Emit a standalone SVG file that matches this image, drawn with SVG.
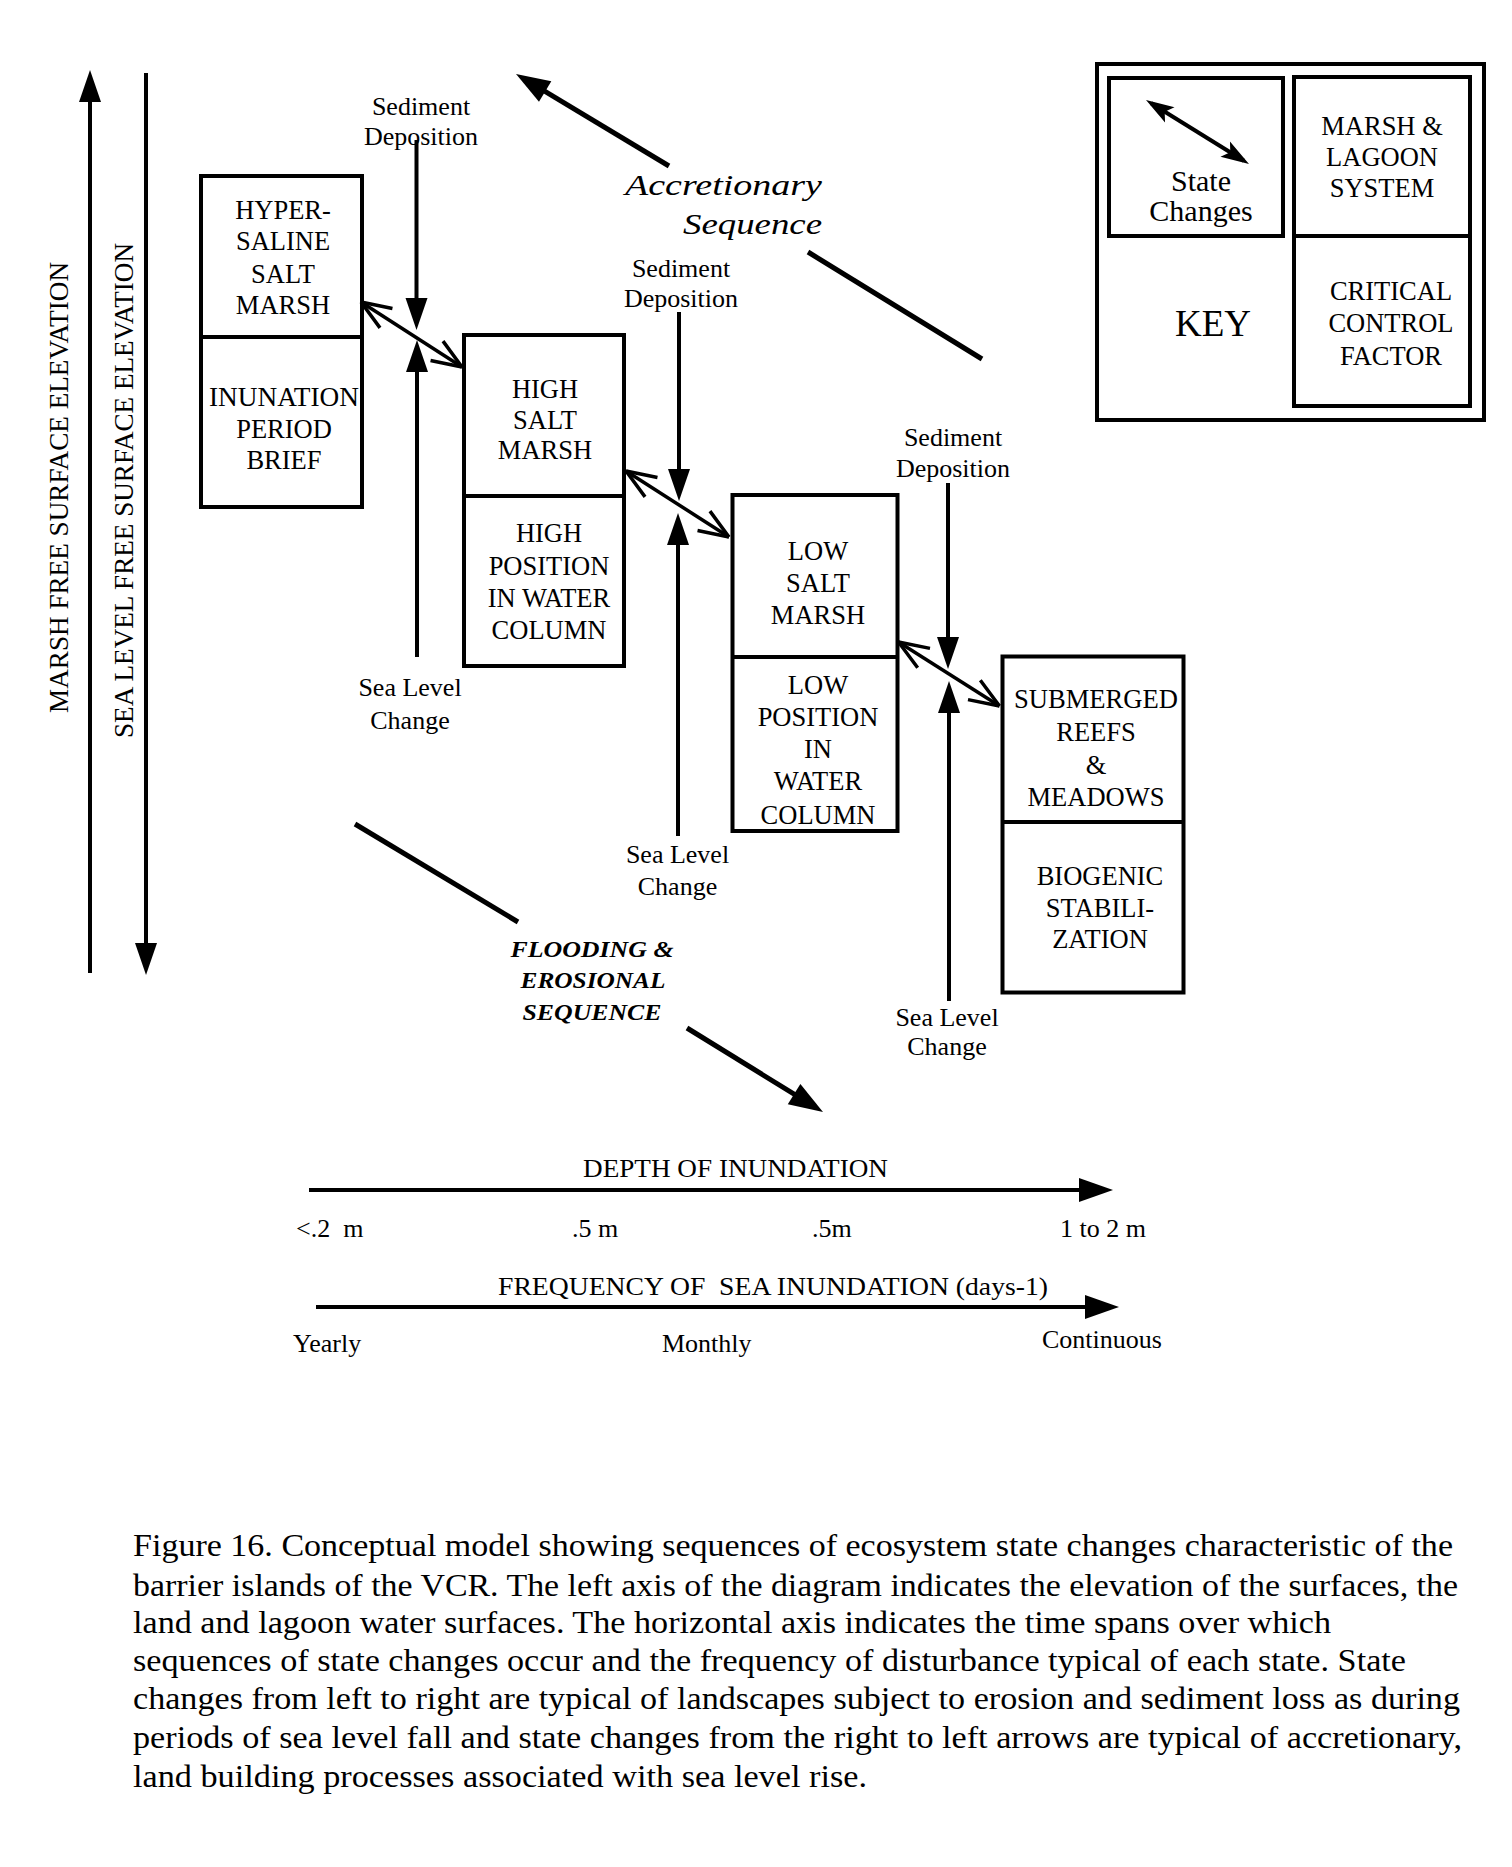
<svg xmlns="http://www.w3.org/2000/svg" width="1512" height="1867" viewBox="0 0 1512 1867">
<style>
text{font-family:"Liberation Serif","Times New Roman",serif;fill:#000}
.box{fill:#fff;stroke:#000;stroke-width:4}
.div{stroke:#000;stroke-width:4}
.lbl{font-size:26.5px;text-anchor:middle}
.note{font-size:26px;text-anchor:middle}
.axl{font-size:26px}
.shaft{stroke:#000;stroke-width:4;fill:none}
.diag{stroke:#000;stroke-width:5;fill:none}
.dbl{stroke:#000;stroke-width:3.5;fill:none}
.seqA{font-size:30px;font-style:italic}
.seqF{font-size:24px;font-style:italic;font-weight:bold;text-anchor:middle}
.cap{font-size:31px}
</style>
<defs>
<marker id="tri" markerUnits="userSpaceOnUse" orient="auto" markerWidth="1" markerHeight="1" refX="0" refY="0" overflow="visible"><path d="M10,0 L-22,-11 L-22,11 Z" fill="#000"/></marker>
<marker id="big" markerUnits="userSpaceOnUse" orient="auto" markerWidth="1" markerHeight="1" refX="0" refY="0" overflow="visible"><path d="M12,0 L-22,-12 L-22,12 Z" fill="#000"/></marker>
<marker id="barb" markerUnits="userSpaceOnUse" orient="auto-start-reverse" markerWidth="1" markerHeight="1" refX="0" refY="0" overflow="visible"><path d="M0,0 L-30,-11.5 M0,0 L-30,11.5" stroke="#000" stroke-width="3.5" fill="none"/></marker>
<marker id="kh" markerUnits="userSpaceOnUse" orient="auto-start-reverse" markerWidth="1" markerHeight="1" refX="0" refY="0" overflow="visible"><path d="M6,0 L-22,-9 L-16,0 L-22,9 Z" fill="#000"/></marker>
</defs>
<rect width="1512" height="1867" fill="#fff"/>

<g id="axis-marsh">
<text class="lbl" transform="translate(68,487.5) rotate(-90)" textLength="451" lengthAdjust="spacingAndGlyphs">MARSH FREE SURFACE ELEVATION</text>
</g>
<g id="axis-sealevel">
<text class="lbl" transform="translate(133,490.5) rotate(-90)" textLength="495" lengthAdjust="spacingAndGlyphs">SEA LEVEL FREE SURFACE ELEVATION</text>
</g>

<g id="node-hypersaline">
<rect class="box" x="201" y="176" width="161" height="331"/>
<line class="div" x1="201" y1="337" x2="362" y2="337"/>
<text class="lbl" x="283" y="218.5">HYPER-</text>
<text class="lbl" x="283" y="250">SALINE</text>
<text class="lbl" x="283" y="283">SALT</text>
<text class="lbl" x="283" y="313.5">MARSH</text>
<text class="lbl" x="284" y="406" textLength="150" lengthAdjust="spacingAndGlyphs">INUNATION</text>
<text class="lbl" x="284" y="437.5">PERIOD</text>
<text class="lbl" x="284" y="468.5">BRIEF</text>
</g>

<g id="node-high">
<rect class="box" x="464" y="335" width="160" height="331"/>
<line class="div" x1="464" y1="496" x2="624" y2="496"/>
<text class="lbl" x="545" y="397.5">HIGH</text>
<text class="lbl" x="545" y="428.5">SALT</text>
<text class="lbl" x="545" y="459">MARSH</text>
<text class="lbl" x="549" y="542">HIGH</text>
<text class="lbl" x="549" y="575">POSITION</text>
<text class="lbl" x="549" y="607">IN WATER</text>
<text class="lbl" x="549" y="639">COLUMN</text>
</g>

<g id="node-low">
<rect class="box" x="732.5" y="495" width="165" height="336"/>
<line class="div" x1="732.5" y1="657" x2="897.5" y2="657"/>
<text class="lbl" x="818" y="560">LOW</text>
<text class="lbl" x="818" y="592">SALT</text>
<text class="lbl" x="818" y="624">MARSH</text>
<text class="lbl" x="818" y="694">LOW</text>
<text class="lbl" x="818" y="726">POSITION</text>
<text class="lbl" x="818" y="758">IN</text>
<text class="lbl" x="818" y="790">WATER</text>
<text class="lbl" x="818" y="824">COLUMN</text>
</g>

<g id="node-submerged">
<rect class="box" x="1002.5" y="656.5" width="181" height="336"/>
<line class="div" x1="1002.5" y1="822" x2="1183.5" y2="822"/>
<text class="lbl" x="1096" y="708" textLength="164" lengthAdjust="spacingAndGlyphs">SUBMERGED</text>
<text class="lbl" x="1096" y="741">REEFS</text>
<text class="lbl" x="1096" y="774">&amp;</text>
<text class="lbl" x="1096" y="806">MEADOWS</text>
<text class="lbl" x="1100" y="885">BIOGENIC</text>
<text class="lbl" x="1100" y="917">STABILI-</text>
<text class="lbl" x="1100" y="948">ZATION</text>
</g>

<g id="key">
<rect class="box" x="1097" y="64" width="387" height="356" stroke-width="3.5"/>
<rect class="box" x="1109" y="78" width="174" height="158"/>
<rect class="box" x="1294" y="77" width="176" height="329"/>
<line class="div" x1="1294" y1="236" x2="1470" y2="236"/>
<line class="shaft" x1="1151.1" y1="103.2" x2="1243.9" y2="160.8" marker-start="url(#kh)" marker-end="url(#kh)"/>
<text x="1201" y="191" font-size="30" text-anchor="middle">State</text>
<text x="1201" y="221" font-size="30" text-anchor="middle">Changes</text>
<text class="lbl" x="1382" y="135">MARSH &amp;</text>
<text class="lbl" x="1382" y="166">LAGOON</text>
<text class="lbl" x="1382" y="197">SYSTEM</text>
<text x="1213" y="336" font-size="37" text-anchor="middle">KEY</text>
<text class="lbl" x="1391" y="300">CRITICAL</text>
<text class="lbl" x="1391" y="332">CONTROL</text>
<text class="lbl" x="1391" y="365">FACTOR</text>
</g>

<g id="labels">
<text class="note" x="421" y="115">Sediment</text>
<text class="note" x="421" y="145">Deposition</text>
<text class="note" x="681" y="277">Sediment</text>
<text class="note" x="681" y="307">Deposition</text>
<text class="note" x="953" y="446">Sediment</text>
<text class="note" x="953" y="477">Deposition</text>
<text class="note" x="410" y="696">Sea Level</text>
<text class="note" x="410" y="729">Change</text>
<text class="note" x="677.5" y="863">Sea Level</text>
<text class="note" x="677.5" y="895">Change</text>
<text class="note" x="947" y="1026">Sea Level</text>
<text class="note" x="947" y="1055">Change</text>
<text class="seqA" x="625" y="195" textLength="197" lengthAdjust="spacingAndGlyphs">Accretionary</text>
<text class="seqA" x="683" y="234" textLength="139" lengthAdjust="spacingAndGlyphs">Sequence</text>
<text class="seqF" x="592" y="957" textLength="163" lengthAdjust="spacingAndGlyphs">FLOODING &amp;</text>
<text class="seqF" x="593" y="988" textLength="145" lengthAdjust="spacingAndGlyphs">EROSIONAL</text>
<text class="seqF" x="592" y="1020" textLength="139" lengthAdjust="spacingAndGlyphs">SEQUENCE</text>
</g>

<g id="connectors">
<line class="shaft" x1="90" y1="973" x2="90" y2="80" marker-end="url(#tri)"/>
<line class="shaft" x1="146" y1="73" x2="146" y2="965" marker-end="url(#tri)"/>
<line class="shaft" x1="416.5" y1="140" x2="416.5" y2="320" marker-end="url(#tri)"/>
<line class="shaft" x1="417" y1="657" x2="417" y2="350" marker-end="url(#tri)"/>
<line class="shaft" x1="679" y1="312" x2="679" y2="491" marker-end="url(#tri)"/>
<line class="shaft" x1="678" y1="836" x2="678" y2="523" marker-end="url(#tri)"/>
<line class="shaft" x1="948" y1="483" x2="948" y2="659" marker-end="url(#tri)"/>
<line class="shaft" x1="949" y1="1001" x2="949" y2="691" marker-end="url(#tri)"/>
<line class="dbl" x1="361" y1="302" x2="462" y2="367" marker-start="url(#barb)" marker-end="url(#barb)"/>
<line class="dbl" x1="626" y1="471" x2="729" y2="537" marker-start="url(#barb)" marker-end="url(#barb)"/>
<line class="dbl" x1="898.5" y1="642" x2="999.5" y2="706" marker-start="url(#barb)" marker-end="url(#barb)"/>
<line class="diag" x1="669" y1="166" x2="526.3" y2="80.2" marker-end="url(#big)"/>
<line class="diag" x1="808" y1="252" x2="982" y2="359"/>
<line class="diag" x1="355" y1="824" x2="518" y2="922"/>
<line class="diag" x1="687" y1="1028" x2="812.8" y2="1105.7" marker-end="url(#big)"/>
<line class="shaft" x1="309" y1="1190" x2="1101" y2="1190" marker-end="url(#big)"/>
<line class="shaft" x1="316" y1="1307" x2="1107" y2="1307" marker-end="url(#big)"/>
</g>

<g id="axis-labels">
<text class="axl" x="583" y="1177" textLength="305" lengthAdjust="spacingAndGlyphs">DEPTH OF INUNDATION</text>
<text class="axl" x="296" y="1237" xml:space="preserve">&lt;.2  m</text>
<text class="axl" x="572" y="1237">.5 m</text>
<text class="axl" x="812" y="1237">.5m</text>
<text class="axl" x="1060" y="1237">1 to 2 m</text>
<text class="axl" x="498" y="1295" textLength="550" lengthAdjust="spacingAndGlyphs" xml:space="preserve">FREQUENCY OF  SEA INUNDATION (days-1)</text>
<text class="axl" x="293" y="1352">Yearly</text>
<text class="axl" x="662" y="1352">Monthly</text>
<text class="axl" x="1042" y="1348">Continuous</text>
</g>

<g id="caption">
<text class="cap" x="133" y="1556" textLength="1320" lengthAdjust="spacingAndGlyphs">Figure 16. Conceptual model showing sequences of ecosystem state changes characteristic of the</text>
<text class="cap" x="133" y="1596" textLength="1325" lengthAdjust="spacingAndGlyphs">barrier islands of the VCR. The left axis of the diagram indicates the elevation of the surfaces, the</text>
<text class="cap" x="133" y="1633" textLength="1198" lengthAdjust="spacingAndGlyphs">land and lagoon water surfaces. The horizontal axis indicates the time spans over which</text>
<text class="cap" x="133" y="1671" textLength="1273" lengthAdjust="spacingAndGlyphs">sequences of state changes occur and the frequency of disturbance typical of each state. State</text>
<text class="cap" x="133" y="1709" textLength="1327" lengthAdjust="spacingAndGlyphs">changes from left to right are typical of landscapes subject to erosion and sediment loss as during</text>
<text class="cap" x="133" y="1748" textLength="1329" lengthAdjust="spacingAndGlyphs">periods of sea level fall and state changes from the right to left arrows are typical of accretionary,</text>
<text class="cap" x="133" y="1787" textLength="734" lengthAdjust="spacingAndGlyphs">land building processes associated with sea level rise.</text>
</g>
</svg>
